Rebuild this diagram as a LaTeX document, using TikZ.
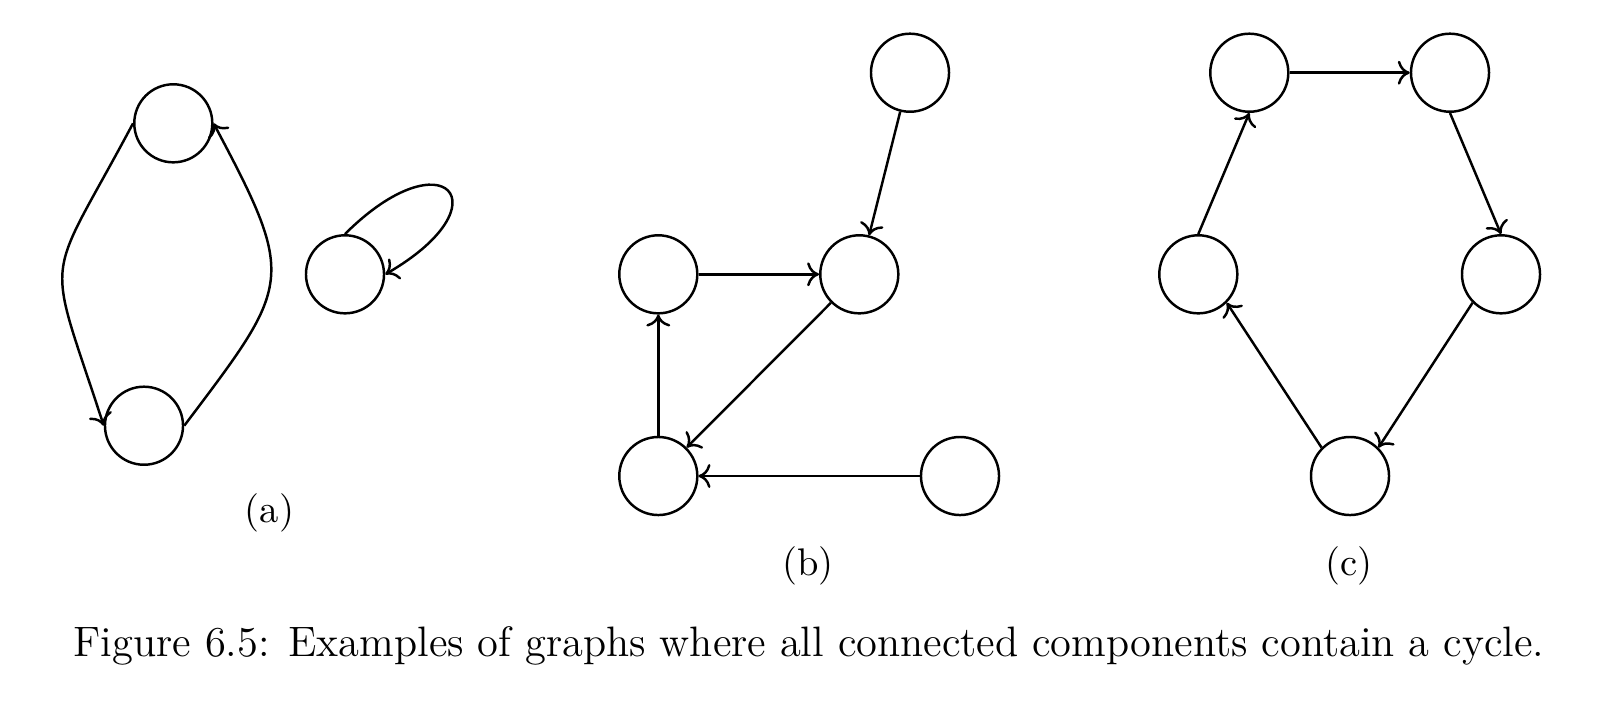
\documentclass[tikz,border=0pt]{standalone}
\usetikzlibrary{arrows.meta}
\begin{document}
\begin{tikzpicture}[x=0.01cm,y=-0.01cm,
  vtx/.style={circle,draw,minimum size=0.78cm,inner sep=0pt,line width=0.7pt},
  edge/.style={-{Computer Modern Rightarrow[length=3.4pt,width=6.8pt]},line width=0.7pt},
  lab/.style={anchor=base,inner sep=0pt,font=\fontsize{10.95}{13}\selectfont},
  caplab/.style={anchor=base,inner sep=0pt,font=\fontsize{12.1}{14}\selectfont}]
\useasboundingbox (0,0) rectangle (1612,714);
% (a)
\node[vtx] (a1) at (173.3,123.3) {};
\node[vtx] (a2) at (144,425.7) {};
\node[vtx] (a3) at (345,274.3) {};
\draw[edge] (a1.west) to[out=242,in=108,looseness=1.6] (a2.west);
\draw[edge] (a2.east) to[out=53,in=298,looseness=1.5] (a1.east);
\draw[edge] (a3.north) .. controls +(45:1.4cm) and +(30:1.4cm) .. (a3.east);
\node[lab] (la) at (269.4,522.7) {(a)};
% (b)
\node[vtx] (b1) at (910,72.7) {};
\node[vtx] (b2) at (859.3,274.3) {};
\node[vtx] (b3) at (658.3,274.3) {};
\node[vtx] (b4) at (658.3,476) {};
\node[vtx] (b5) at (960,476) {};
\draw[edge] (b1) -- (b2);
\draw[edge] (b3) -- (b2);
\draw[edge] (b2) -- (b4);
\draw[edge] (b4) -- (b3);
\draw[edge] (b5) -- (b4);
\node[lab] (lb) at (808,575) {(b)};
% (c)
\node[vtx] (c1) at (1249.3,72.7) {};
\node[vtx] (c2) at (1450,72.7) {};
\node[vtx] (c3) at (1501,274.3) {};
\node[vtx] (c4) at (1350,476) {};
\node[vtx] (c5) at (1198.3,274.3) {};
\draw[edge] (c1.east) -- (c2.west);
\draw[edge] (c2.south) -- (c3.north);
\draw[edge] (c3.south west) -- (c4.north east);
\draw[edge] (c4.north west) -- (c5.south east);
\draw[edge] (c5.north) -- (c1.south);
\node[lab] (lc) at (1349,575) {(c)};
% caption
\node[caplab] (cap) at (809,656.7) {Figure 6.5: Examples of graphs where all connected components contain a cycle.};
\end{tikzpicture}
\end{document}
